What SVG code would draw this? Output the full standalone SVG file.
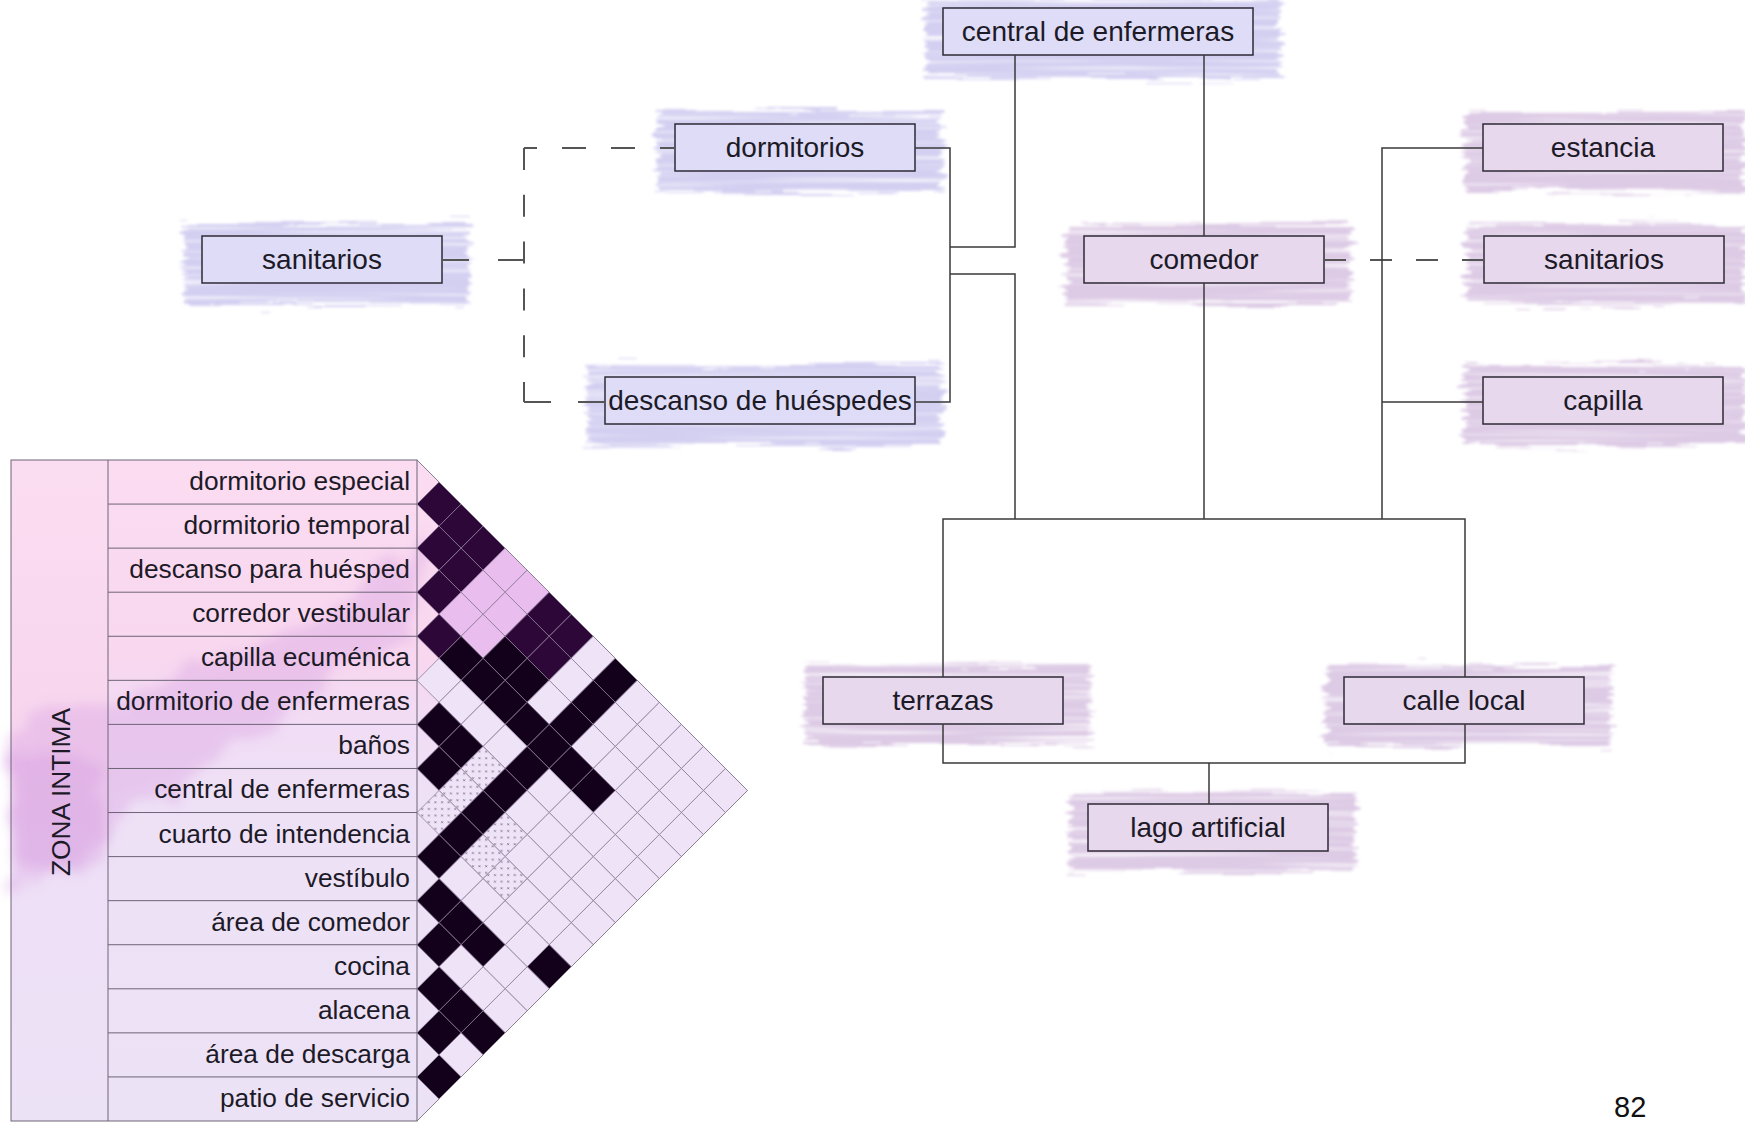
<svg xmlns="http://www.w3.org/2000/svg" xmlns:xlink="http://www.w3.org/1999/xlink" width="1745" height="1125" viewBox="0 0 1745 1125">
<style>
  .boxB{fill:#dedcf6;stroke:#2e2a36;stroke-width:1.5}
  .boxP{fill:#e7d8ed;stroke:#2e2a36;stroke-width:1.5}
  .haloB{fill:#d3cff1}
  .haloP{fill:#ddcae5}
  .nt{font-family:"Liberation Sans",Arial,sans-serif;font-size:28px;fill:#1d1a28;text-anchor:middle}
  .lb{font-family:"Liberation Sans",Arial,sans-serif;font-size:26.3px;fill:#1d1a28;text-anchor:end}
  .conn{fill:none;stroke:#3a3a3a;stroke-width:1.5}
  .dash{fill:none;stroke:#555;stroke-width:2}
  .tl{stroke:#6e6478;stroke-width:1;fill:none}
  .L{fill:#efe3f7}
  .P{fill:#eabdef}
  .B{fill:#13001b;stroke:#13001b}
  .B2{fill:#2c0738;stroke:#2c0738}
  .D{fill:url(#dots)}
</style>
<defs>
  <filter id="brush" x="-20%" y="-60%" width="140%" height="220%">
    <feTurbulence type="fractalNoise" baseFrequency="0.01 0.28" numOctaves="3" seed="7" result="t"/>
    <feDisplacementMap in="SourceGraphic" in2="t" scale="22" xChannelSelector="R" yChannelSelector="G" result="d"/>
    <feTurbulence type="fractalNoise" baseFrequency="0.004 0.3" numOctaves="2" seed="12" result="t2"/>
    <feColorMatrix in="t2" type="matrix" values="0 0 0 0 0  0 0 0 0 0  0 0 0 0 0  3 0 0 0 -0.45" result="m"/>
    <feComposite in="d" in2="m" operator="in" result="c"/>
    <feGaussianBlur in="c" stdDeviation="1.4"/>
  </filter>
  <filter id="cloud" x="-30%" y="-30%" width="160%" height="160%">
    <feTurbulence type="fractalNoise" baseFrequency="0.025" numOctaves="3" seed="4" result="t"/>
    <feDisplacementMap in="SourceGraphic" in2="t" scale="45" xChannelSelector="R" yChannelSelector="G" result="d"/>
    <feGaussianBlur in="d" stdDeviation="6"/>
  </filter>
  <linearGradient id="tbg" gradientUnits="userSpaceOnUse" x1="0" y1="460" x2="0" y2="1121">
    <stop offset="0" stop-color="#fbdcf1"/>
    <stop offset="0.3" stop-color="#f8d7ef"/>
    <stop offset="0.4" stop-color="#f1ddf5"/>
    <stop offset="0.52" stop-color="#eee1f6"/>
    <stop offset="1" stop-color="#ece2f6"/>
  </linearGradient>
  <linearGradient id="zbg" gradientUnits="userSpaceOnUse" x1="0" y1="460" x2="0" y2="1121">
    <stop offset="0" stop-color="#fbddf1"/>
    <stop offset="0.42" stop-color="#f7d5ee"/>
    <stop offset="0.6" stop-color="#eedff6"/>
    <stop offset="1" stop-color="#ece2f6"/>
  </linearGradient>
  <pattern id="dots" patternUnits="userSpaceOnUse" width="0.3" height="0.3">
    <rect width="0.3" height="0.3" fill="#efe3f7"/>
    <path d="M0.1 0.1 L0.18 0.18 M0.18 0.1 L0.1 0.18" stroke="#7c6b88" stroke-width="0.04"/>
  </pattern>
  <path id="dm" d="M-1 0 L0 -1 L1 0 L0 1 Z" stroke="#8a7b95" stroke-width="0.8" vector-effect="non-scaling-stroke"/>
</defs>

<!-- Matrix -->
<g id="matrix">
  <rect x="108" y="460" width="309" height="661" fill="url(#tbg)"/>
  <rect x="11" y="460" width="97" height="661" fill="url(#zbg)"/>
  <polygon points="417,460 747.5,790.5 417,1121" fill="url(#tbg)"/>
  <path d="M11 720 C50 700 90 720 130 700 C200 660 280 640 340 600 C370 580 400 560 417 545 L417 640 C380 650 330 680 280 720 C230 760 170 790 130 820 C90 850 50 880 11 890 Z" fill="#dfaee6" opacity="0.5" filter="url(#cloud)"/>
  <path d="M14 760 C40 740 80 750 100 770 L100 860 C70 880 40 870 14 860 Z" fill="#d9a2e2" opacity="0.45" filter="url(#cloud)"/>
  <g transform="translate(417 460) scale(22.0333)">
    <use href="#dm" x="1" y="2" class="B2"/><use href="#dm" x="2" y="3" class="B2"/><use href="#dm" x="3" y="4" class="B2"/>
    <use href="#dm" x="4" y="5" class="P"/><use href="#dm" x="5" y="6" class="P"/>
    <use href="#dm" x="6" y="7" class="B2"/><use href="#dm" x="7" y="8" class="B2"/>
    <use href="#dm" x="8" y="9" class="L"/><use href="#dm" x="9" y="10" class="B"/>
    <use href="#dm" x="10" y="11" class="L"/><use href="#dm" x="11" y="12" class="L"/><use href="#dm" x="12" y="13" class="L"/><use href="#dm" x="13" y="14" class="L"/><use href="#dm" x="14" y="15" class="L"/>

    <use href="#dm" x="1" y="4" class="B2"/><use href="#dm" x="2" y="5" class="B2"/>
    <use href="#dm" x="3" y="6" class="P"/><use href="#dm" x="4" y="7" class="P"/>
    <use href="#dm" x="5" y="8" class="B2"/><use href="#dm" x="6" y="9" class="B2"/>
    <use href="#dm" x="7" y="10" class="L"/><use href="#dm" x="8" y="11" class="B"/>
    <use href="#dm" x="9" y="12" class="L"/><use href="#dm" x="10" y="13" class="L"/><use href="#dm" x="11" y="14" class="L"/><use href="#dm" x="12" y="15" class="L"/><use href="#dm" x="13" y="16" class="L"/>

    <use href="#dm" x="1" y="6" class="B2"/>
    <use href="#dm" x="2" y="7" class="P"/><use href="#dm" x="3" y="8" class="P"/>
    <use href="#dm" x="4" y="9" class="B"/><use href="#dm" x="5" y="10" class="B"/>
    <use href="#dm" x="6" y="11" class="L"/><use href="#dm" x="7" y="12" class="B"/>
    <use href="#dm" x="8" y="13" class="L"/><use href="#dm" x="9" y="14" class="L"/><use href="#dm" x="10" y="15" class="L"/><use href="#dm" x="11" y="16" class="L"/><use href="#dm" x="12" y="17" class="L"/>

    <use href="#dm" x="1" y="8" class="B2"/><use href="#dm" x="2" y="9" class="B"/><use href="#dm" x="3" y="10" class="B"/><use href="#dm" x="4" y="11" class="B"/>
    <use href="#dm" x="5" y="12" class="B"/><use href="#dm" x="6" y="13" class="B"/><use href="#dm" x="7" y="14" class="B"/><use href="#dm" x="8" y="15" class="B"/>
    <use href="#dm" x="9" y="16" class="L"/><use href="#dm" x="10" y="17" class="L"/><use href="#dm" x="11" y="18" class="L"/>

    <use href="#dm" x="1" y="10" class="L"/><use href="#dm" x="2" y="11" class="L"/><use href="#dm" x="3" y="12" class="L"/><use href="#dm" x="4" y="13" class="L"/>
    <use href="#dm" x="5" y="14" class="B"/>
    <use href="#dm" x="6" y="15" class="L"/><use href="#dm" x="7" y="16" class="L"/><use href="#dm" x="8" y="17" class="L"/><use href="#dm" x="9" y="18" class="L"/><use href="#dm" x="10" y="19" class="L"/>

    <use href="#dm" x="1" y="12" class="B"/><use href="#dm" x="2" y="13" class="B"/>
    <use href="#dm" x="3" y="14" class="D"/><use href="#dm" x="4" y="15" class="B"/>
    <use href="#dm" x="5" y="16" class="L"/><use href="#dm" x="6" y="17" class="L"/><use href="#dm" x="7" y="18" class="L"/><use href="#dm" x="8" y="19" class="L"/><use href="#dm" x="9" y="20" class="L"/>

    <use href="#dm" x="1" y="14" class="B"/><use href="#dm" x="2" y="15" class="D"/><use href="#dm" x="3" y="16" class="B"/>
    <use href="#dm" x="4" y="17" class="D"/>
    <use href="#dm" x="5" y="18" class="L"/><use href="#dm" x="6" y="19" class="L"/><use href="#dm" x="7" y="20" class="L"/><use href="#dm" x="8" y="21" class="L"/>

    <use href="#dm" x="1" y="16" class="D"/><use href="#dm" x="2" y="17" class="B"/>
    <use href="#dm" x="3" y="18" class="D"/><use href="#dm" x="4" y="19" class="D"/>
    <use href="#dm" x="5" y="20" class="L"/><use href="#dm" x="6" y="21" class="L"/><use href="#dm" x="7" y="22" class="L"/>

    <use href="#dm" x="1" y="18" class="B"/><use href="#dm" x="2" y="19" class="L"/><use href="#dm" x="3" y="20" class="L"/><use href="#dm" x="4" y="21" class="L"/><use href="#dm" x="5" y="22" class="L"/>
    <use href="#dm" x="6" y="23" class="B"/>

    <use href="#dm" x="1" y="20" class="B"/><use href="#dm" x="2" y="21" class="B"/><use href="#dm" x="3" y="22" class="B"/>
    <use href="#dm" x="4" y="23" class="L"/><use href="#dm" x="5" y="24" class="L"/>

    <use href="#dm" x="1" y="22" class="B"/><use href="#dm" x="2" y="23" class="L"/><use href="#dm" x="3" y="24" class="L"/><use href="#dm" x="4" y="25" class="L"/>

    <use href="#dm" x="1" y="24" class="B"/><use href="#dm" x="2" y="25" class="B"/><use href="#dm" x="3" y="26" class="B"/>

    <use href="#dm" x="1" y="26" class="B"/><use href="#dm" x="2" y="27" class="L"/>

    <use href="#dm" x="1" y="28" class="B"/>
  </g>
  <polyline points="417,460 747.5,790.5 417,1121" fill="none" stroke="#8c8094" stroke-width="1"/>
  <rect x="11" y="460" width="406" height="661" class="tl"/>
  <path class="tl" d="M108 460 V1121 M108 504.07 H417 M108 548.13 H417 M108 592.2 H417 M108 636.27 H417 M108 680.33 H417 M108 724.4 H417 M108 768.47 H417 M108 812.53 H417 M108 856.6 H417 M108 900.67 H417 M108 944.73 H417 M108 988.8 H417 M108 1032.87 H417 M108 1076.93 H417"/>
  <text class="lb" x="410" y="490">dormitorio especial</text>
  <text class="lb" x="410" y="534">dormitorio temporal</text>
  <text class="lb" x="410" y="578">descanso para huésped</text>
  <text class="lb" x="410" y="622">corredor vestibular</text>
  <text class="lb" x="410" y="666">capilla ecuménica</text>
  <text class="lb" x="410" y="710">dormitorio de enfermeras</text>
  <text class="lb" x="410" y="754">baños</text>
  <text class="lb" x="410" y="798">central de enfermeras</text>
  <text class="lb" x="410" y="843">cuarto de intendencia</text>
  <text class="lb" x="410" y="887">vestíbulo</text>
  <text class="lb" x="410" y="931">área de comedor</text>
  <text class="lb" x="410" y="975">cocina</text>
  <text class="lb" x="410" y="1019">alacena</text>
  <text class="lb" x="410" y="1063">área de descarga</text>
  <text class="lb" x="410" y="1107">patio de servicio</text>
  <text class="lb" style="text-anchor:middle" transform="translate(70 792) rotate(-90)" x="0" y="0">ZONA INTIMA</text>
</g>

<!-- Nodes -->
<g id="n-central">
  <rect class="haloB" x="925" y="-2" width="355" height="80" filter="url(#brush)"/>
  <rect class="boxB" x="943" y="8" width="310" height="47"/>
  <text class="nt" x="1098" y="41">central de enfermeras</text>
</g>
<g id="n-dormitorios">
  <rect class="haloB" x="657" y="112" width="285" height="80" filter="url(#brush)"/>
  <rect class="boxB" x="675" y="124" width="240" height="47"/>
  <text class="nt" x="795" y="157">dormitorios</text>
</g>
<g id="n-sanitarios-izq">
  <rect class="haloB" x="184" y="224" width="285" height="80" filter="url(#brush)"/>
  <rect class="boxB" x="202" y="236" width="240" height="47"/>
  <text class="nt" x="322" y="269">sanitarios</text>
</g>
<g id="n-descanso">
  <rect class="haloB" x="587" y="365" width="355" height="80" filter="url(#brush)"/>
  <rect class="boxB" x="605" y="377" width="310" height="47"/>
  <text class="nt" x="760" y="410">descanso de huéspedes</text>
</g>
<g id="n-comedor">
  <rect class="haloP" x="1066" y="224" width="285" height="80" filter="url(#brush)"/>
  <rect class="boxP" x="1084" y="236" width="240" height="47"/>
  <text class="nt" x="1204" y="269">comedor</text>
</g>
<g id="n-estancia">
  <rect class="haloP" x="1465" y="112" width="280" height="80" filter="url(#brush)"/>
  <rect class="boxP" x="1483" y="124" width="240" height="47"/>
  <text class="nt" x="1603" y="157">estancia</text>
</g>
<g id="n-sanitarios-der">
  <rect class="haloP" x="1466" y="224" width="279" height="80" filter="url(#brush)"/>
  <rect class="boxP" x="1484" y="236" width="240" height="47"/>
  <text class="nt" x="1604" y="269">sanitarios</text>
</g>
<g id="n-capilla">
  <rect class="haloP" x="1465" y="365" width="280" height="80" filter="url(#brush)"/>
  <rect class="boxP" x="1483" y="377" width="240" height="47"/>
  <text class="nt" x="1603" y="410">capilla</text>
</g>
<g id="n-terrazas">
  <rect class="haloP" x="805" y="665" width="285" height="80" filter="url(#brush)"/>
  <rect class="boxP" x="823" y="677" width="240" height="47"/>
  <text class="nt" x="943" y="710">terrazas</text>
</g>
<g id="n-calle">
  <rect class="haloP" x="1326" y="665" width="285" height="80" filter="url(#brush)"/>
  <rect class="boxP" x="1344" y="677" width="240" height="47"/>
  <text class="nt" x="1464" y="710">calle local</text>
</g>
<g id="n-lago">
  <rect class="haloP" x="1070" y="792" width="285" height="80" filter="url(#brush)"/>
  <rect class="boxP" x="1088" y="804" width="240" height="47"/>
  <text class="nt" x="1208" y="837">lago artificial</text>
</g>

<!-- Connectors -->
<g id="connectors">
  <path class="dash" d="M442 260 H524" stroke-dasharray="27 29"/>
  <path class="dash" d="M524 148 V402" stroke-dasharray="22 24.8"/>
  <path class="dash" d="M675 148 H524" stroke-dasharray="24 25" stroke-dashoffset="9"/>
  <path class="dash" d="M524 402 H605" stroke-dasharray="27 27"/>
  <path class="dash" d="M1324 260 H1484" stroke-dasharray="22 24"/>
  <path class="conn" d="M915 148 H950 V402 H915"/>
  <path class="conn" d="M950 247 H1015 V55"/>
  <path class="conn" d="M950 274 H1015 V519"/>
  <path class="conn" d="M1204 55 V236"/>
  <path class="conn" d="M1204 283 V519"/>
  <path class="conn" d="M1483 148 H1382 V519 M1382 402 H1483"/>
  <path class="conn" d="M943 677 V519 H1465 V677"/>
  <path class="conn" d="M943 724 V763 H1465 V724 M1209 763 V804"/>
</g>

<text x="1614" y="1117" style="font-family:'Liberation Sans',Arial,sans-serif;font-size:29px;fill:#111">82</text>
</svg>
